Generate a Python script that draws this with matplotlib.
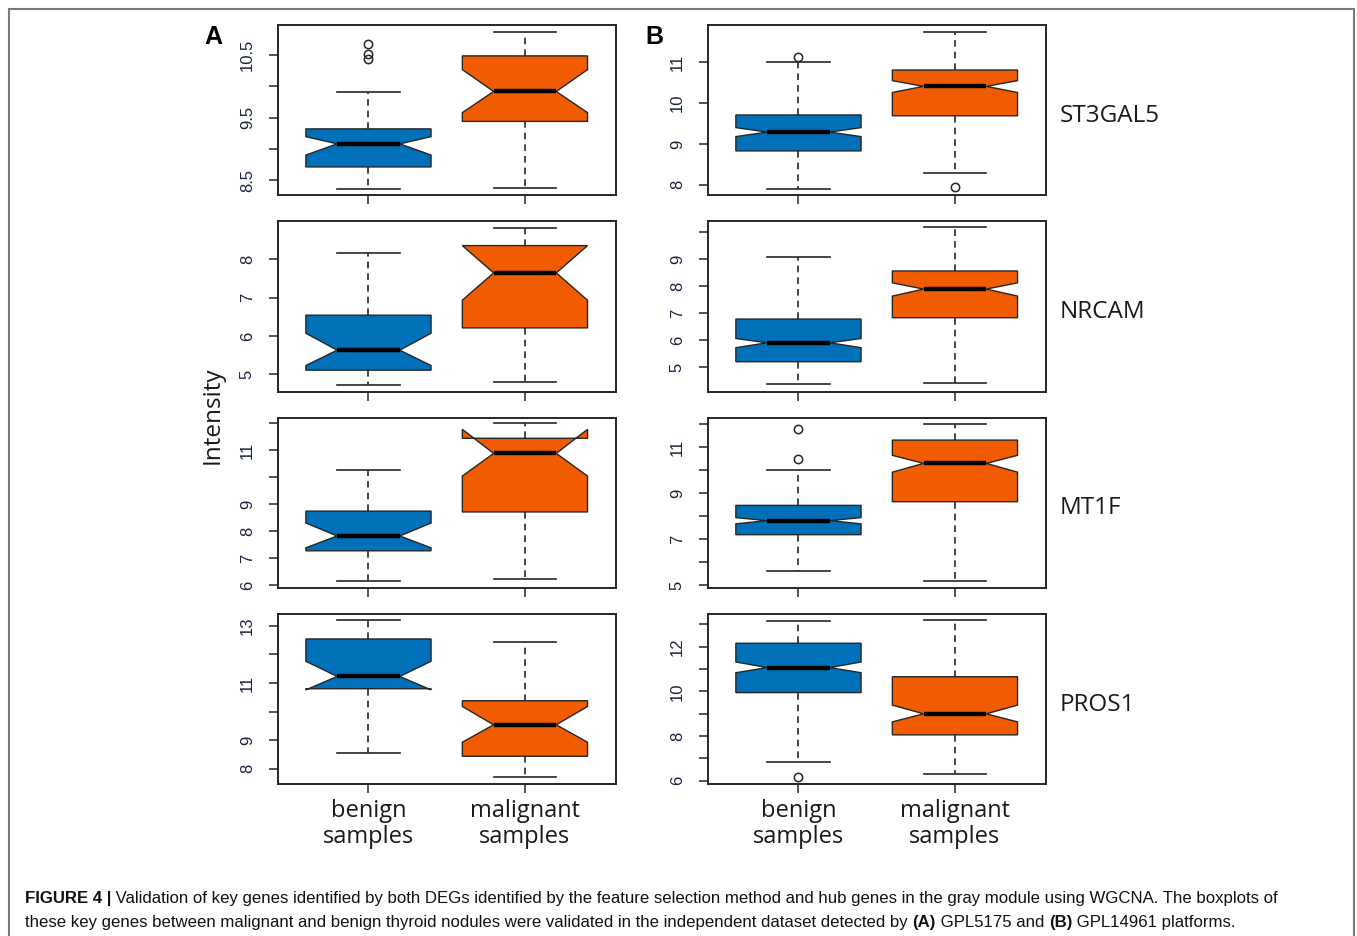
import matplotlib
matplotlib.use("Agg")
import matplotlib.pyplot as plt
from matplotlib.patches import Rectangle

# ---------------- data ----------------
genes = ["ST3GAL5", "NRCAM", "MT1F", "PROS1"]
groups = ["benign\nsamples", "malignant\nsamples"]
panel_letters = ["A", "B"]

# Panel A (GPL5175): per gene -> [benign, malignant]
a_whislo = [[8.36, 8.38], [4.72, 4.80], [6.16, 6.23], [8.54, 7.70]]
a_q1 = [[8.71, 9.44], [5.11, 6.21], [7.27, 8.71], [10.80, 8.44]]
a_cilo = [[8.90, 9.58], [5.23, 6.93], [7.38, 10.04], [10.76, 8.93]]
a_med = [[9.08, 9.92], [5.63, 7.64], [7.82, 10.88], [11.23, 9.54]]
a_cihi = [[9.195, 10.27], [6.07, 8.35], [8.30, 11.77], [11.76, 10.18]]
a_q3 = [[9.32, 10.49], [6.54, 8.35], [8.74, 11.44], [12.54, 10.38]]
a_whishi = [[9.91, 10.87], [8.15, 8.80], [10.26, 11.99], [13.20, 12.42]]
a_fliers = [[[10.44, 10.52, 10.68], []], [[], []], [[], []], [[], []]]

# Panel B (GPL14961)
b_whislo = [[7.89, 8.29], [4.36, 4.40], [5.64, 5.20], [6.82, 6.28]]
b_q1 = [[8.83, 9.69], [5.20, 6.83], [7.20, 8.63], [9.94, 8.05]]
b_cilo = [[9.18, 10.26], [5.72, 7.63], [7.67, 9.91], [10.83, 8.63]]
b_med = [[9.29, 10.41], [5.90, 7.89], [7.81, 10.29], [11.06, 8.99]]
b_cihi = [[9.40, 10.55], [6.06, 8.12], [7.94, 10.64], [11.31, 9.38]]
b_q3 = [[9.71, 10.81], [6.78, 8.56], [8.47, 11.30], [12.15, 10.65]]
b_whishi = [[11.00, 11.73], [9.09, 10.17], [10.00, 12.00], [13.14, 13.18]]
b_fliers = [[[11.14], [7.95]], [[], []], [[10.48, 11.80], []], [[6.15], []]]

# y-axis ticks and labels
a_ticks = [[8.5, 9, 9.5, 10, 10.5], [5, 6, 7, 8], [6, 7, 8, 9, 10, 11, 12], [8, 9, 10, 11, 12, 13]]
a_ticklabels = [["8.5", "", "9.5", "", "10.5"], ["5", "6", "7", "8"],
                ["6", "7", "8", "9", "", "11", ""], ["8", "9", "", "11", "", "13"]]
b_ticks = [[8, 9, 10, 11], [5, 6, 7, 8, 9, 10], [5, 6, 7, 8, 9, 10, 11, 12], [6, 7, 8, 9, 10, 11, 12, 13]]
b_ticklabels = [["8", "9", "10", "11"], ["5", "6", "7", "8", "9", ""],
                ["5", "", "7", "", "9", "", "11", ""], ["6", "", "8", "", "10", "", "12", ""]]
a_ylim = [(8.26, 10.99), (4.55, 8.99), (5.91, 12.21), (7.47, 13.43)]
b_ylim = [(7.75, 11.92), (4.09, 10.41), (4.91, 12.28), (5.85, 13.48)]

caption1 = [("FIGURE 4 |", True),
            (" Validation of key genes identified by both DEGs identified by the feature selection method and hub genes in the gray module using WGCNA. The boxplots of", False)]
caption2 = [("these key genes between malignant and benign thyroid nodules were validated in the independent dataset detected by ", False),
            ("(A)", True), (" GPL5175 and ", False), ("(B)", True), (" GPL14961 platforms.", False)]

# ---------------- styling / layout ----------------
W, H = 1357, 936
fig = plt.figure(figsize=(W / 100, H / 100), dpi=100)
fig.patch.set_facecolor("white")

def fx(x):
    return x / W

def fy(y):
    return 1 - y / H

box_colors = ["#0070b9", "#f25c00"]
line_col = "#262626"
tick_col = "#1c2442"
col_x = [(277.7, 615.7), (707.7, 1045.7)]
row_y = [(24.7, 195.0), (221.0, 391.7), (417.5, 587.5), (613.5, 784.0)]

panels = [
    (a_whislo, a_q1, a_cilo, a_med, a_cihi, a_q3, a_whishi, a_fliers, a_ticks, a_ticklabels, a_ylim),
    (b_whislo, b_q1, b_cilo, b_med, b_cihi, b_q3, b_whishi, b_fliers, b_ticks, b_ticklabels, b_ylim),
]

for c, P in enumerate(panels):
    wlo, q1, clo, med, chi, q3, whi, fl, tks, tkl, ylim = P
    for r in range(4):
        x0, x1 = col_x[c]
        y0, y1 = row_y[r]
        ax = fig.add_axes([fx(x0), fy(y1), (x1 - x0) / W, (y1 - y0) / H])
        stats = []
        for g in range(2):
            stats.append(dict(med=med[r][g], q1=q1[r][g], q3=q3[r][g],
                              whislo=wlo[r][g], whishi=whi[r][g],
                              cilo=clo[r][g], cihi=chi[r][g], fliers=fl[r][g]))
        res = ax.bxp(stats, positions=[1, 2], widths=0.8, shownotches=True,
                     patch_artist=True, manage_ticks=False,
                     boxprops=dict(edgecolor=line_col, linewidth=1.0),
                     whiskerprops=dict(color=line_col, linestyle=(0, (4, 3)), linewidth=1.2),
                     capprops=dict(color=line_col, linewidth=1.2),
                     medianprops=dict(color="black", linewidth=3.2, solid_capstyle="butt"),
                     flierprops=dict(marker="o", markerfacecolor="none", markeredgecolor=line_col,
                                     markersize=6, markeredgewidth=1.1, linestyle="none"))
        for patch, colr in zip(res["boxes"], box_colors):
            patch.set_facecolor(colr)
        ax.set_xlim(0.42, 2.58)
        ax.set_ylim(*ylim[r])
        for sp in ax.spines.values():
            sp.set_color(line_col)
            sp.set_linewidth(1.4)
        ax.tick_params(axis="both", direction="out", length=6.5, width=1.1, color=line_col)
        ax.tick_params(axis="y", pad=10)
        ax.set_yticks(tks[r])
        ax.set_yticklabels(tkl[r], rotation=90, va="center", fontsize=12,
                           family="Liberation Sans", color=tick_col)
        ax.set_xticks([1, 2])
        if r == 3:
            ax.set_xticklabels(groups, fontsize=17, family="Open Sans", color="#1a1a1a",
                               linespacing=1.12)
            ax.tick_params(axis="x", pad=4)
        else:
            ax.set_xticklabels(["", ""])
        if c == 1:
            fig.text(fx(1060), fy((y0 + y1) / 2 + 6), genes[r], fontsize=17.5,
                     family="Open Sans", color="#1a1a1a", ha="left", va="center")

# panel letters
fig.text(fx(213.5), fy(37), panel_letters[0], fontsize=18, fontweight="bold",
         family="Liberation Sans", ha="center", va="center")
fig.text(fx(654), fy(37), panel_letters[1], fontsize=18, fontweight="bold",
         family="Liberation Sans", ha="center", va="center")

# y label
fig.text(fx(213), fy(415), "Intensity", rotation=90, fontsize=17.5, family="Open Sans",
         color="#1a1a1a", ha="center", va="center")

# caption
renderer = fig.canvas.get_renderer()

def measure(segments, size):
    total = 0.0
    for txt, bold in segments:
        t = fig.text(0, 0, txt, fontsize=size, family="Liberation Sans",
                     fontweight="bold" if bold else "normal")
        total += t.get_window_extent(renderer).width
        t.remove()
    return total

def draw(segments, x, y, size):
    for txt, bold in segments:
        t = fig.text(fx(x), fy(y), txt, fontsize=size, family="Liberation Sans",
                     fontweight="bold" if bold else "normal", color="#111111",
                     ha="left", va="baseline")
        x += t.get_window_extent(renderer).width

base = 12.0
w1 = measure(caption1, base)
size = base * (1281 - 25) / w1
draw(caption1, 25, 903, size)
draw(caption2, 25, 927, size)

# outer frame
fig.add_artist(Rectangle((fx(9), -0.05), fx(1354) - fx(9), fy(9) + 0.05,
                         transform=fig.transFigure, fill=False,
                         edgecolor="#7a7a7a", linewidth=1.5))

fig.savefig("out.png", dpi=100)
